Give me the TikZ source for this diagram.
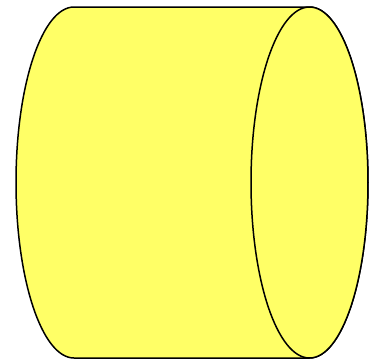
\documentclass[tikz,border=0pt]{standalone}
\usepackage{xcolor}
\usepackage{tikz}
\definecolor{cylyellow}{RGB}{255,255,102}

\begin{document}
\begin{tikzpicture}[x=1pt,y=1pt,
  body/.style={fill=cylyellow,draw=black,line width=1.5pt,line join=round}]
\useasboundingbox (0,0) rectangle (376,-360);
% end points of the cylinder
\coordinate (topR) at (309.5,-7);
\coordinate (topL) at (74,-7);
\coordinate (botR) at (309.5,-358);
\coordinate (capC) at (309.5,-182.5);
% outline of the body
\draw[body] (topR) -- (topL)
  arc[start angle=90,end angle=270,x radius=58,y radius=175.5]
  -- (botR)
  arc[start angle=-90,end angle=90,x radius=58.5,y radius=175.5] -- cycle;
% front cap
\draw[body] (capC) ellipse[x radius=58.5,y radius=175.5];
\end{tikzpicture}
\end{document}
